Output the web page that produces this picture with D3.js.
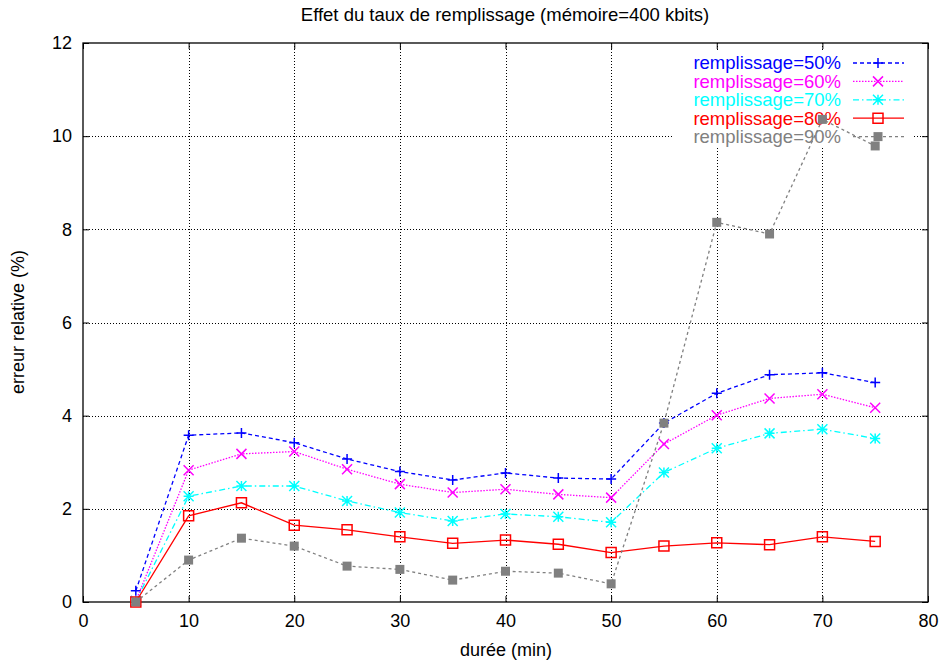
<!DOCTYPE html>
<html>
<head>
<meta charset="utf-8">
<script src="https://cdn.jsdelivr.net/npm/d3@7"></script>
<style>
body { margin: 0; background: #fff; }
svg { display: block; font-family: "Liberation Sans", Arial, sans-serif; }
</style>
</head>
<body>
<svg id="chart" width="943" height="662"></svg>
<script>
// durée (min)
var durees = [5, 10, 15, 20, 25, 30, 35, 40, 45, 50, 55, 60, 65, 70, 75];
// erreur relative (%) par taux de remplissage
var r50 = [0.24, 3.58, 3.63, 3.42, 3.07, 2.80, 2.62, 2.77, 2.66, 2.64, 3.84, 4.48, 4.88, 4.92, 4.71];
var r60 = [0.02, 2.83, 3.18, 3.23, 2.85, 2.53, 2.35, 2.42, 2.31, 2.24, 3.39, 4.01, 4.37, 4.46, 4.17];
var r70 = [0.02, 2.27, 2.49, 2.49, 2.17, 1.92, 1.74, 1.89, 1.83, 1.71, 2.78, 3.30, 3.62, 3.71, 3.51];
var r80 = [0.00, 1.85, 2.13, 1.65, 1.55, 1.40, 1.26, 1.33, 1.24, 1.06, 1.20, 1.27, 1.23, 1.40, 1.30];
var r90 = [0.00, 0.90, 1.37, 1.20, 0.77, 0.70, 0.47, 0.66, 0.62, 0.39, 3.84, 8.15, 7.90, 10.36, 9.79];
var labels = ["remplissage=50%", "remplissage=60%", "remplissage=70%", "remplissage=80%", "remplissage=90%"];
var xTicks = [0, 10, 20, 30, 40, 50, 60, 70, 80];
var yTicks = [0, 2, 4, 6, 8, 10, 12];

var series = [
  {name: labels[0], values: r50, color: "#0000ff", dash: "4,3", mark: "plus"},
  {name: labels[1], values: r60, color: "#ff00ff", dash: "1.5,1.5", mark: "cross"},
  {name: labels[2], values: r70, color: "#00ffff", dash: "6,3,1.5,3", mark: "star"},
  {name: labels[3], values: r80, color: "#ff0000", dash: null, mark: "box"},
  {name: labels[4], values: r90, color: "#808080", dash: "3,3", mark: "fbox"}
];

var svg = d3.select("#chart");
var pLeft = 83, pRight = 928, pTop = 43, pBottom = 602;

var x = d3.scaleLinear().domain([0, 80]).range([pLeft, pRight]);
var y = d3.scaleLinear().domain([0, 12]).range([pBottom, pTop]);

// grid
var grid = svg.append("g").attr("stroke", "#000").attr("stroke-width", 1).attr("stroke-dasharray", "1,2");
grid.selectAll(".gx").data(xTicks.slice(1, -1)).enter().append("line")
  .attr("x1", d => Math.round(x(d)) + 0.5).attr("x2", d => Math.round(x(d)) + 0.5)
  .attr("y1", pTop).attr("y2", pBottom);
grid.selectAll(".gy").data(yTicks.slice(1, -1)).enter().append("line")
  .attr("y1", d => Math.round(y(d)) + 0.5).attr("y2", d => Math.round(y(d)) + 0.5)
  .attr("x1", pLeft).attr("x2", pRight);

// axes with inward ticks (mirrored)
var font = "18px";
var xAxis = svg.append("g").attr("transform", "translate(0," + pBottom + ")")
  .call(d3.axisBottom(x).tickValues(xTicks).tickSize(-6).tickPadding(12));
var xTop = svg.append("g").attr("transform", "translate(0," + pTop + ")")
  .call(d3.axisTop(x).tickValues(xTicks).tickSize(-6).tickFormat(""));
var yAxis = svg.append("g").attr("transform", "translate(" + pLeft + ",0)")
  .call(d3.axisLeft(y).tickValues(yTicks).tickSize(-6).tickPadding(11));
var yRight = svg.append("g").attr("transform", "translate(" + pRight + ",0)")
  .call(d3.axisRight(y).tickValues(yTicks).tickSize(-6).tickFormat(""));
[xAxis, xTop, yAxis, yRight].forEach(function(a) {
  a.select(".domain").remove();
  a.selectAll("line").attr("stroke", "#000").attr("stroke-width", 1);
  a.selectAll("text").attr("fill", "#000").style("font-size", font).style("font-family", "inherit");
});

svg.append("rect").attr("x", pLeft).attr("y", pTop).attr("width", pRight - pLeft).attr("height", pBottom - pTop)
  .attr("fill", "none").attr("stroke", "#000").attr("stroke-width", 1.3);

// key area hides the grid
var keyX = 841, keyY0 = 63, keyDy = 18.4;
svg.append("rect").attr("x", 673).attr("y", 51).attr("width", 240).attr("height", 96).attr("fill", "#fff");

function marker(type, s) {
  var h = s / 2;
  if (type === "plus") return "M" + (-h) + ",0H" + h + "M0," + (-h) + "V" + h;
  if (type === "cross") return "M" + (-h) + "," + (-h) + "L" + h + "," + h + "M" + (-h) + "," + h + "L" + h + "," + (-h);
  if (type === "star") return "M" + (-h) + ",0H" + h + "M0," + (-h) + "V" + h +
    "M" + (-h) + "," + (-h) + "L" + h + "," + h + "M" + (-h) + "," + h + "L" + h + "," + (-h);
  return "M" + (-h) + "," + (-h) + "H" + h + "V" + h + "H" + (-h) + "Z";
}

var line = d3.line().x((d, i) => x(durees[i])).y(d => y(d));

series.forEach(function(s, k) {
  var ky = keyY0 + k * keyDy;
  var g = svg.append("g");
  // key entry
  g.append("text").attr("x", keyX).attr("y", ky).attr("dy", "0.35em").attr("text-anchor", "end")
    .attr("fill", s.color).style("font-size", "18.5px").text(s.name);
  g.append("line").attr("x1", 853).attr("x2", 904).attr("y1", ky).attr("y2", ky)
    .attr("stroke", s.color).attr("stroke-width", 1.3).attr("stroke-dasharray", s.dash);
  // curve
  g.append("path").datum(s.values).attr("d", line).attr("fill", "none")
    .attr("stroke", s.color).attr("stroke-width", 1.3).attr("stroke-dasharray", s.dash);
  var pts = [{px: 878, py: ky}].concat(s.values.map((v, i) => ({px: x(durees[i]), py: y(v)})));
  var size = s.mark === "fbox" ? 9 : 10;
  g.selectAll(".m").data(pts).enter().append("path")
    .attr("transform", d => "translate(" + d.px + "," + d.py + ")")
    .attr("d", marker(s.mark, size))
    .attr("fill", s.mark === "fbox" ? s.color : "none")
    .attr("stroke", s.mark === "fbox" ? "none" : s.color)
    .attr("stroke-width", 1.5);
});

// titles
svg.append("text").attr("x", 505).attr("y", 21).attr("text-anchor", "middle").style("font-size", "18.5px")
  .text("Effet du taux de remplissage (mémoire=400 kbits)");
svg.append("text").attr("x", 506).attr("y", 656).attr("text-anchor", "middle").style("font-size", "18px")
  .text("durée (min)");
svg.append("text").attr("transform", "translate(24,322) rotate(-90)").attr("text-anchor", "middle")
  .style("font-size", "18px").text("erreur relative (%)");
</script>
</body>
</html>
